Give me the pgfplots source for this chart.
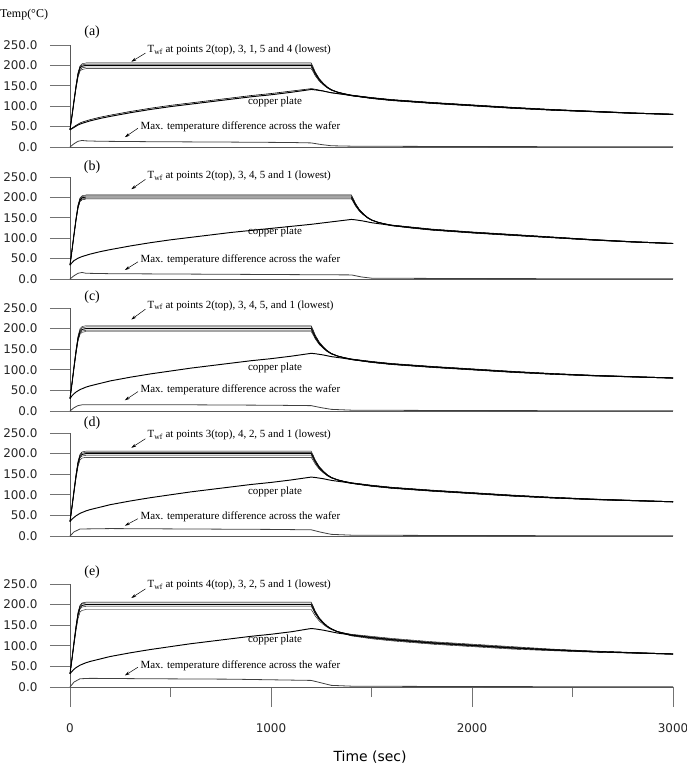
\documentclass[border=0pt]{standalone}
\usepackage{fontspec}
\setmainfont{Liberation Serif}
\newfontfamily\sansf{DejaVu Sans}
\usepackage{pgfplots}
\pgfplotsset{compat=1.18}
\usepackage{pgfplotstable}
\usetikzlibrary{arrows.meta}

\pgfplotstableread{
t w1 w2 w3 w4 w5
0 42 42 42 42 42
10 78 77 77 76 75
20 116 114 113 111 110
30 152 150 148 145 143
40 183 180 178 174 171
50 199 197 194 190 186
60 204 201 198 194 190
80 206 203 200 196 192
1200 206 203 200 196 192
1210 195.8 193.2 190.7 187.3 183.9
1220 184.2 182.2 180.1 177.4 174.7
1240 167.8 166.4 165.1 163.3 161.5
1260 156.5 155.6 154.7 153.5 152.3
1280 147.4 146.8 146.2 145.5 144.7
1300 140.8 140.4 140.1 139.6 139.1
1330 134.9 134.7 134.5 134.3 134.1
1360 131.0 130.9 130.8 130.7 130.5
1400 127.5 127.0 126.5 126.0 125.5
1500 121.5 120.8 120 119.2 118.5
1600 116.5 115.8 115 114.2 113.5
1800 109.5 108.8 108 107.2 106.5
2000 103.5 102.8 102 101.2 100.5
2200 97.5 96.8 96 95.2 94.5
2400 92.2 91.6 91 90.4 89.8
2600 88 87.5 87 86.5 86
2800 83.8 83.4 83 82.6 82.2
3000 80.5 80.2 80 79.8 79.5
}\waferA
\pgfplotstableread{
t cu cu2
0 42 42
10 45 46
20 48 50
30 51 53
40 54 56
50 56 59
60 58 61
80 61 64
100 64 67
150 70 73
200 75 78
300 84 87
400 92 95
500 99 102
600 105 108
700 111 114
800 117 120
900 123 126
1000 128 131
1100 134 137
1200 141 143
1210 140.5 142.5
1220 140 141.5
1240 138.5 139.5
1260 137 137.5
1280 135 135
1300 133 133
1330 131 131
1360 129 129
1400 126 126
1500 120 120
1600 115 115
1800 108 108
2000 102 102
2200 96 96
2400 91 91
2600 87 87
2800 83 83
3000 80 80
}\copperA
\pgfplotstableread{
t d
0 0
20 8
40 14
60 16
80 15
150 14
400 13
800 12
1100 11
1200 10
1250 6
1300 3
1400 2
2000 1
3000 0.5
}\diffA

\pgfplotstableread{
t w1 w2 w3 w4 w5
0 34 34 34 34 34
10 72 71 71 70 70
20 111 111 109 108 107
30 149 148 146 144 143
40 182 180 178 175 173
50 199 197 194 191 190
60 204 202 199 196 194
80 206 204 201 198 196
1400 206 204 201 198 196
1410 196.5 194.8 192.3 189.7 188
1420 185.8 184.4 182.4 180.4 179
1440 170.5 169.6 168.3 166.9 166
1460 160 159.4 158.5 157.6 157
1480 151.4 151 150.5 149.9 149.5
1500 145.2 145 144.6 144.2 144
1530 139.6 139.5 139.3 139.1 139
1560 135.8 135.7 135.7 135.6 135.5
1600 132.5 132 131.5 131 130.5
1700 127.5 126.8 126 125.2 124.5
1800 122.5 121.8 121 120.2 119.5
2000 115.5 114.8 114 113.2 112.5
2200 109.5 108.8 108 107.2 106.5
2400 103.2 102.6 102 101.4 100.8
2600 97 96.5 96 95.5 95
2800 91.8 91.4 91 90.6 90.2
3000 87.5 87.2 87 86.8 86.5
}\waferB
\pgfplotstableread{
t cu
0 34
10 40
20 45
30 48
40 51
50 53
60 55
80 58
100 61
150 67
200 72
300 81
400 89
500 96
600 102
700 108
800 114
900 119
1000 124
1100 129
1200 134
1300 140
1400 146
1410 145.5
1420 145
1440 143.5
1460 142
1480 140
1500 138
1530 136
1560 134
1600 131
1700 126
1800 121
2000 114
2200 108
2400 102
2600 96
2800 91
3000 87
}\copperB
\pgfplotstableread{
t d
0 0
20 8
40 14
60 16
80 14
200 13
600 12
1000 11
1400 10
1450 5
1500 2
2000 1
3000 0.5
}\diffB

\pgfplotstableread{
t w1 w2 w3 w4 w5
0 30 30 30 30 30
10 69 68 67 67 66
20 110 108 107 105 103
30 149 147 144 141 139
40 182 180 176 173 170
50 200 197 193 189 186
60 205 202 198 194 191
80 207 204 200 196 193
1200 207 204 200 196 193
1210 196.5 193.9 190.5 187.1 184.5
1220 184.6 182.5 179.8 177.1 175
1240 167.7 166.3 164.5 162.7 161.4
1260 156.1 155.2 154 152.8 151.9
1280 146.7 146.2 145.4 144.6 144.1
1300 140 139.7 139.2 138.7 138.4
1330 134 133.8 133.6 133.4 133.2
1360 130 129.9 129.8 129.7 129.6
1400 126.5 126 125.5 125 124.5
1500 120.5 119.8 119 118.2 117.5
1600 115.5 114.8 114 113.2 112.5
1800 108.5 107.8 107 106.2 105.5
2000 102.5 101.8 101 100.2 99.5
2200 96.5 95.8 95 94.2 93.5
2400 91.2 90.6 90 89.4 88.8
2600 87 86.5 86 85.5 85
2800 83.8 83.4 83 82.6 82.2
3000 80.5 80.2 80 79.8 79.5
}\waferC
\pgfplotstableread{
t cu
0 30
10 37
20 42
30 46
40 49
50 52
60 54
80 58
100 61
150 67
200 73
300 82
400 90
500 97
600 104
700 110
800 116
900 122
1000 127
1100 133
1200 140
1210 139.5
1220 139
1240 137.5
1260 136
1280 134
1300 132
1330 130
1360 128
1400 125
1500 119
1600 114
1800 107
2000 101
2200 95
2400 90
2600 86
2800 83
3000 80
}\copperC
\pgfplotstableread{
t d
0 0
20 8
40 13
60 15
200 15
600 15
1000 14
1200 13
1250 8
1300 4
1400 2
2000 1
3000 0.5
}\diffC

\pgfplotstableread{
t w1 w2 w3 w4 w5
0 35 35 35 35 35
10 73 72 71 70 69
20 112 111 109 107 105
30 150 148 146 143 140
40 182 179 177 173 169
50 199 196 193 190 185
60 204 201 198 194 189
80 206 203 200 196 191
1200 206 203 200 196 191
1210 196.1 193.5 191 187.5 183.3
1220 184.8 182.8 180.8 178 174.6
1240 168.9 167.5 166.2 164.4 162.1
1260 157.9 157 156.1 154.9 153.4
1280 149 148.4 147.8 147.1 146.1
1300 142.6 142.2 141.8 141.4 140.8
1330 136.8 136.6 136.4 136.2 135.9
1360 132.9 132.8 132.7 132.6 132.4
1400 129.5 129 128.5 128 127.5
1500 123.5 122.8 122 121.2 120.5
1600 118.5 117.8 117 116.2 115.5
1800 111.5 110.8 110 109.2 108.5
2000 105.5 104.8 104 103.2 102.5
2200 99.5 98.8 98 97.2 96.5
2400 94.2 93.6 93 92.4 91.8
2600 90 89.5 89 88.5 88
2800 86.8 86.4 86 85.6 85.2
3000 83.5 83.2 83 82.8 82.5
}\waferD
\pgfplotstableread{
t cu
0 35
10 41
20 45
30 49
40 52
50 55
60 57
80 61
100 64
150 70
200 76
300 85
400 93
500 100
600 107
700 113
800 119
900 125
1000 130
1100 136
1200 143
1210 142.5
1220 142
1240 140.5
1260 139
1280 137
1300 135
1330 133
1360 131
1400 128
1500 122
1600 117
1800 110
2000 104
2200 98
2400 93
2600 89
2800 86
3000 83
}\copperD
\pgfplotstableread{
t d
0 0
20 10
50 17
200 18
600 17
1000 16
1200 15
1250 9
1300 4
1400 2
2000 1
3000 0.5
}\diffD

\pgfplotstableread{
t w1 w2 w3 w4 w5
0 32 32 32 32 32
10 70 70 69 68 66
20 110 109 108 106 102
30 149 147 145 142 137
40 182 180 176 173 166
50 199 197 193 189 182
60 204 202 198 194 186
80 206 204 200 196 188
1200 206 204 200 196 188
1210 195.9 194.2 190.8 187.4 180.6
1220 184.5 183.2 180.4 177.7 172.3
1240 168.3 167.4 165.6 163.8 160.2
1260 157.2 156.6 155.4 154.2 151.8
1280 148.2 147.8 147 146.3 144.7
1300 141.7 141.4 141 140.5 139.5
1330 134.8 134.7 134.5 134.2 133.8
1360 131.5 131.2 130.7 130.3 129.8
1400 128 127 126 125 124
1500 123 121.5 120 118.5 117
1600 118 116.5 115 113.5 112
1800 110 108.5 107 105.5 104
2000 104 102.5 101 99.5 98
2200 98 96.5 95 93.5 92
2400 92 91 90 89 88
2600 87.5 86.8 86 85.2 84.5
2800 84 83.5 83 82.5 82
3000 80.5 80.2 80 79.8 79.5
}\waferE
\pgfplotstableread{
t cu
0 32
10 38
20 43
30 47
40 50
50 53
60 55
80 59
100 62
150 68
200 74
300 83
400 91
500 98
600 105
700 111
800 117
900 123
1000 128
1100 134
1200 142
1210 141.5
1220 141
1240 139.5
1260 138
1280 136
1300 134
1330 131
1360 129
1400 126
1500 120
1600 115
1800 107
2000 101
2200 95
2400 90
2600 86
2800 83
3000 80
}\copperE
\pgfplotstableread{
t d
0 0
20 12
50 20
100 21
400 20
800 19
1200 16
1250 10
1300 4
1400 2
2000 1
3000 0.5
}\diffE

\newcommand\tickf{\sansf\fontsize{12}{14}\selectfont}
\newcommand\annf{\fontsize{11}{13}\selectfont}
\newcommand\panf{\fontsize{14}{16}\selectfont}

\tikzset{
  ann/.style={font=\annf, inner sep=0pt},
  arr/.style={-{Stealth[length=5bp,width=3bp]}, line width=0.5bp},
}
\pgfplotsset{
  panel/.style={
    scale only axis, width=603bp,
    xmin=0, xmax=3000, ymin=0, ymax=250,
    axis x line*=bottom, axis y line*=left,
    axis line style={black!65, line width=0.8bp},
    ytick={0,50,...,250}, xtick=\empty,
    tick align=outside, major tick length=20bp,
    major tick style={black!55, line width=0.8bp},
    scaled y ticks=false,
    yticklabel style={font=\tickf, text=black!85, xshift=-9bp,
      /pgf/number format/fixed, /pgf/number format/fixed zerofill,
      /pgf/number format/precision=1, /pgf/number format/assume math mode=true},
    clip=false, anchor=origin,
    cycle list={{black, solid, line width=0.95bp}},
    every axis plot/.append style={no marks},
  },
}

\newcommand\wafer[1]{%
  \addplot table[x=t,y=w1]{#1};
  \addplot table[x=t,y=w2]{#1};
  \addplot table[x=t,y=w3]{#1};
  \addplot table[x=t,y=w4]{#1};
  \addplot table[x=t,y=w5]{#1};
}

\begin{document}
\begin{tikzpicture}
\useasboundingbox (0,0) rectangle (687bp,778bp);
\node[anchor=west, inner sep=0pt, font=\fontsize{12}{14}\selectfont] at (0bp,763bp) {Temp(°C)};

% (a)
\begin{axis}[panel, at={(70bp,631bp)}, height=102bp]
\wafer{\waferA}
\addplot table[x=t,y=cu]{\copperA};
\addplot[black, line width=0.6bp] table[x=t,y=cu2]{\copperA};
\addplot[black!75, line width=0.8bp] table[x=t,y=d]{\diffA};
\node[font=\panf] at (axis cs:110,282) {(a)};
\node[ann, anchor=west] at (axis cs:385,238) {T\textsubscript{wf} at points 2(top), 3, 1, 5 and 4 (lowest)};
\draw[arr] (axis cs:375,230) -- (axis cs:305,209);
\node[ann] at (axis cs:1020,110) {copper plate};
\node[ann, anchor=west] at (axis cs:350,49) {Max. temperature difference across the wafer};
\draw[arr] (axis cs:338,46) -- (axis cs:273,24);
\end{axis}

% (b)
\begin{axis}[panel, at={(70bp,499bp)}, height=102bp]
\wafer{\waferB}
\addplot table[x=t,y=cu]{\copperB};
\addplot[black!75, line width=0.8bp] table[x=t,y=d]{\diffB};
\node[font=\panf] at (axis cs:110,275) {(b)};
\node[ann, anchor=west] at (axis cs:385,253) {T\textsubscript{wf} at points 2(top), 3, 4, 5 and 1 (lowest)};
\draw[arr] (axis cs:375,244) -- (axis cs:305,220);
\node[ann] at (axis cs:1020,115) {copper plate};
\node[ann, anchor=west] at (axis cs:350,46) {Max. temperature difference across the wafer};
\draw[arr] (axis cs:338,42) -- (axis cs:273,22);
\end{axis}

% (c)
\begin{axis}[panel, at={(70bp,367bp)}, height=103bp]
\wafer{\waferC}
\addplot table[x=t,y=cu]{\copperC};
\addplot[black!75, line width=0.8bp] table[x=t,y=d]{\diffC};
\node[font=\panf] at (axis cs:110,277) {(c)};
\node[ann, anchor=west] at (axis cs:385,256) {T\textsubscript{wf} at points 2(top), 3, 4, 5, and 1 (lowest)};
\draw[arr] (axis cs:375,247) -- (axis cs:305,222);
\node[ann] at (axis cs:1020,105) {copper plate};
\node[ann, anchor=west] at (axis cs:350,51) {Max. temperature difference across the wafer};
\draw[arr] (axis cs:338,47) -- (axis cs:273,26);
\end{axis}

% (d)
\begin{axis}[panel, at={(70bp,242bp)}, height=103bp]
\wafer{\waferD}
\addplot table[x=t,y=cu]{\copperD};
\addplot[black!75, line width=0.8bp] table[x=t,y=d]{\diffD};
\node[font=\panf] at (axis cs:110,275) {(d)};
\node[ann, anchor=west] at (axis cs:385,245) {T\textsubscript{wf} at points 3(top), 4, 2, 5 and 1 (lowest)};
\draw[arr] (axis cs:375,236) -- (axis cs:305,214);
\node[ann] at (axis cs:1020,107) {copper plate};
\node[ann, anchor=west] at (axis cs:350,46) {Max. temperature difference across the wafer};
\draw[arr] (axis cs:338,42) -- (axis cs:273,25);
\end{axis}

% (e)
\begin{axis}[panel, at={(70bp,91bp)}, height=103bp,
  xtick={0,1000,2000,3000}, minor xtick={500,1500,2500}, minor tick length=10bp,
  minor tick style={black!55, line width=0.8bp},
  xticklabel style={font=\tickf, text=black!85, yshift=-13bp,
    /pgf/number format/set thousands separator={}, /pgf/number format/assume math mode=true}]
\wafer{\waferE}
\addplot table[x=t,y=cu]{\copperE};
\addplot[black!75, line width=0.8bp] table[x=t,y=d]{\diffE};
\node[font=\panf] at (axis cs:110,279) {(e)};
\node[ann, anchor=west] at (axis cs:385,248) {T\textsubscript{wf} at points 4(top), 3, 2, 5 and 1 (lowest)};
\draw[arr] (axis cs:375,238) -- (axis cs:305,216);
\node[ann] at (axis cs:1020,114) {copper plate};
\node[ann, anchor=west] at (axis cs:350,52) {Max. temperature difference across the wafer};
\draw[arr] (axis cs:338,48) -- (axis cs:273,28);
\end{axis}

\node[font=\sansf\fontsize{14}{16}\selectfont] at (370bp,21bp) {Time (sec)};
\end{tikzpicture}
\end{document}
